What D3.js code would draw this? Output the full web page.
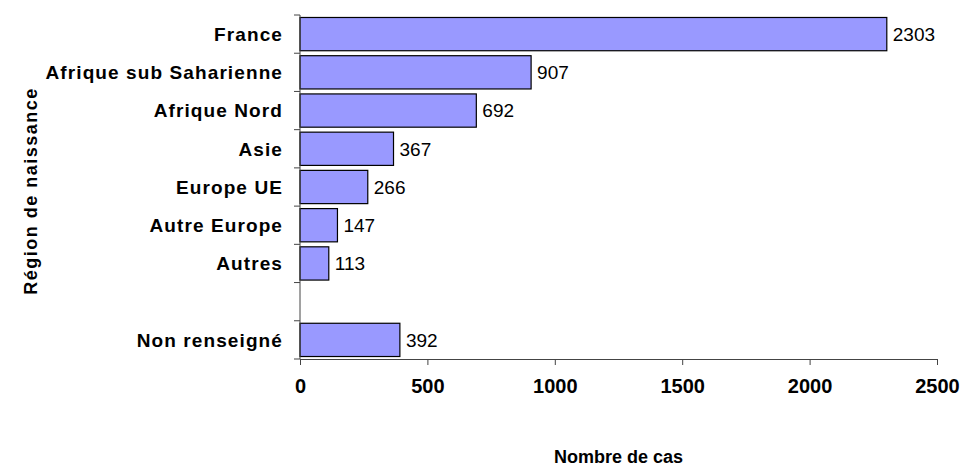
<!DOCTYPE html>
<html>
<head>
<meta charset="utf-8">
<script src="https://cdn.jsdelivr.net/npm/d3@7"></script>
<style>
  body { margin: 0; background: #fff; }
  text { font-family: "Liberation Sans", Arial, sans-serif; }
</style>
</head>
<body>
<script>
// cases by region of birth
var categories = ["France", "Afrique sub Saharienne", "Afrique Nord", "Asie",
  "Europe UE", "Autre Europe", "Autres", "", "Non renseigné"];
var values = [2303, 907, 692, 367, 266, 147, 113, null, 392];
var xTicks = [0, 500, 1000, 1500, 2000, 2500];

var width = 963, height = 468;
var plot = {left: 300, right: 937, top: 15, bottom: 359};

var svg = d3.select("body").append("svg")
    .attr("width", width)
    .attr("height", height);

var x = d3.scaleLinear().domain([0, 2500]).range([plot.left, plot.right]);
var y = d3.scaleBand()
    .domain(categories.map(function(d, i) { return i; }))
    .range([plot.top, plot.bottom])
    .paddingInner(0.13)
    .paddingOuter(0.065);

// band edges for the y ticks
var step = (plot.bottom - plot.top) / categories.length;
var yEdges = d3.range(categories.length + 1).map(function(i) { return plot.top + i * step; });

var barData = values.map(function(v, i) { return {v: v, i: i}; })
    .filter(function(d) { return d.v != null; });

// bars
svg.selectAll("rect.bar")
    .data(barData)
    .enter()
    .append("rect")
    .attr("class", "bar")
    .attr("x", x(0))
    .attr("y", function(d) { return y(d.i); })
    .attr("width", function(d) { return x(d.v) - x(0); })
    .attr("height", y.bandwidth())
    .style("fill", "#9999ff")
    .style("stroke", "#000")
    .style("stroke-width", 1.2);

// value labels
svg.selectAll("text.val")
    .data(barData)
    .enter()
    .append("text")
    .attr("class", "val")
    .attr("x", function(d) { return x(d.v) + 6; })
    .attr("y", function(d) { return y(d.i) + y.bandwidth() / 2; })
    .attr("dy", "0.36em")
    .style("font-size", "19px")
    .text(function(d) { return d.v; });

// y axis line + ticks
svg.append("line")
    .attr("x1", plot.left).attr("x2", plot.left)
    .attr("y1", plot.top).attr("y2", plot.bottom)
    .style("stroke", "#444");
svg.selectAll("line.ytick")
    .data(yEdges)
    .enter()
    .append("line")
    .attr("class", "ytick")
    .attr("x1", plot.left - 6).attr("x2", plot.left)
    .attr("y1", function(d) { return d; }).attr("y2", function(d) { return d; })
    .style("stroke", "#444");

// category labels
svg.selectAll("text.cat")
    .data(categories)
    .enter()
    .append("text")
    .attr("class", "cat")
    .attr("x", 283)
    .attr("y", function(d, i) { return yEdges[i] + step / 2; })
    .attr("dy", "0.36em")
    .attr("text-anchor", "end")
    .style("font-size", "19px")
    .style("font-weight", "bold")
    .style("letter-spacing", "1.1px")
    .text(function(d) { return d; });

// x axis
var xAxis = svg.append("g")
    .attr("transform", "translate(0," + plot.bottom + ")")
    .call(d3.axisBottom(x).tickValues(xTicks).tickFormat(d3.format("d"))
      .tickSize(6).tickSizeOuter(0).tickPadding(14));
xAxis.select(".domain").attr("stroke", "#444");
xAxis.selectAll(".tick line").attr("stroke", "#444");
xAxis.selectAll(".tick text")
    .style("font-family", "'Liberation Sans', Arial, sans-serif")
    .style("font-size", "20px")
    .style("font-weight", "bold")
    .attr("fill", "#000");

// axis titles
svg.append("text")
    .attr("x", (plot.left + plot.right) / 2)
    .attr("y", 457)
    .attr("dy", "0.36em")
    .attr("text-anchor", "middle")
    .style("font-size", "18px")
    .style("font-weight", "bold")
    .text("Nombre de cas");

svg.append("text")
    .attr("transform", "translate(31,191) rotate(-90)")
    .attr("dy", "0.36em")
    .attr("text-anchor", "middle")
    .style("font-size", "18px")
    .style("font-weight", "bold")
    .style("letter-spacing", "1.5px")
    .text("Région de naissance");
</script>
</body>
</html>
